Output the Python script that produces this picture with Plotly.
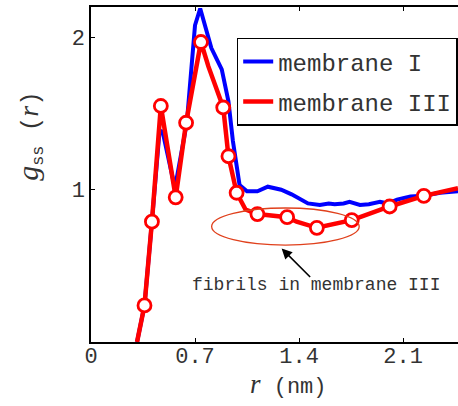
import plotly.graph_objects as go

# membrane I (blue line)
r_I = [0.31, 0.335, 0.36, 0.41, 0.46, 0.48, 0.565, 0.645, 0.70, 0.735, 0.81, 0.88,
       0.925, 0.955, 1.0, 1.05, 1.12, 1.19, 1.24, 1.28, 1.35, 1.41, 1.46, 1.54, 1.60,
       1.64, 1.70, 1.74, 1.81, 1.87, 1.945, 2.0, 2.06, 2.15, 2.24, 2.35, 2.47]
g_I = [0.0, 0.12, 0.24, 0.79, 1.37, 1.39, 1.01, 1.44, 2.08, 2.19, 1.93, 1.79,
       1.58, 1.32, 1.03, 0.99, 0.99, 1.02, 1.01, 1.00, 0.97, 0.94, 0.91, 0.90, 0.91,
       0.905, 0.91, 0.92, 0.90, 0.905, 0.92, 0.91, 0.935, 0.955, 0.96, 0.98, 0.99]

# membrane III (red line)
r_III = [0.31, 0.335, 0.36, 0.41, 0.47, 0.57, 0.64, 0.74, 0.79, 0.89, 0.925, 0.98,
         1.04, 1.12, 1.32, 1.384, 1.52, 1.755, 2.01, 2.24, 2.47]
g_III = [0.0, 0.11, 0.24, 0.79, 1.55, 0.95, 1.44, 1.97, 1.81, 1.54, 1.22, 0.98,
         0.87, 0.84, 0.82, 0.79, 0.75, 0.80, 0.89, 0.96, 1.01]

# membrane III markers
r_III_mk = [0.36, 0.41, 0.47, 0.57, 0.64, 0.74, 0.89, 0.925, 0.98, 1.12, 1.32, 1.52, 1.755, 2.01, 2.24]
g_III_mk = [0.24, 0.79, 1.55, 0.95, 1.44, 1.97, 1.54, 1.22, 0.98, 0.84, 0.82, 0.75, 0.80, 0.89, 0.96]

x_ticks = [0, 0.7, 1.4, 2.1]
x_ticktext = ["0", "0.7", "1.4", "2.1"]
y_ticks = [1, 2]
y_ticktext = ["1", "2"]

MONO = "Liberation Mono"
SERIF = "Liberation Serif"
TXT = "#333333"

fig = go.Figure()
fig.add_trace(go.Scatter(x=r_I, y=g_I, mode="lines", name="membrane I",
                         line=dict(color="#0000ff", width=4), legendgroup="a"))
fig.add_trace(go.Scatter(x=r_III, y=g_III, mode="lines", name="membrane III",
                         line=dict(color="#ff0000", width=4.5), legendgroup="b"))
fig.add_trace(go.Scatter(x=r_III_mk, y=g_III_mk, mode="markers", showlegend=False,
                         marker=dict(size=13, color="white",
                                     line=dict(color="#ff0000", width=2.8))))

fig.add_shape(type="circle", xref="x", yref="y", x0=0.812, x1=1.805, y0=0.636, y1=0.88,
              line=dict(color="#e0401c", width=1.3))

fig.add_annotation(x=1.283, y=0.614, ax=1.485, ay=0.417, xref="x", yref="y",
                   axref="x", ayref="y", showarrow=True, arrowhead=2, arrowsize=1.3,
                   arrowwidth=1.6, arrowcolor="black", text="")
fig.add_annotation(x=1.514, y=0.373, xref="x", yref="y", showarrow=False,
                   text="fibrils in membrane III",
                   font=dict(family=MONO, size=18, color=TXT))

fig.add_annotation(x=0.538, y=-0.126, xref="paper", yref="paper", showarrow=False,
                   xanchor="center", yanchor="middle",
                   text=f"<span style='font-family:{SERIF};font-size:27px'><i>r</i></span> (nm)",
                   font=dict(family=MONO, size=22, color=TXT))
fig.add_annotation(x=-0.166, y=0.613, xref="paper", yref="paper", showarrow=False,
                   xanchor="center", yanchor="middle", textangle=-90,
                   text=(f"<span style='font-family:{SERIF};font-size:30px'><i>g</i></span><sub>ss</sub>"
                         f" (<span style='font-family:{SERIF};font-size:28px'><i>r</i></span>)"),
                   font=dict(family=MONO, size=24, color=TXT))

fig.update_layout(
    width=458, height=406,
    margin=dict(l=91, r=0, t=7, b=64),
    paper_bgcolor="white", plot_bgcolor="white",
    showlegend=True,
    legend=dict(x=0.397, y=0.908, xanchor="left", yanchor="top",
                bgcolor="white", bordercolor="black", borderwidth=1.5,
                font=dict(family=MONO, size=24, color=TXT), tracegroupgap=6),
    xaxis=dict(range=[0, 2.47], tickvals=x_ticks, ticktext=x_ticktext,
               ticks="inside", ticklen=4, tickcolor="black", showline=True,
               linecolor="black", linewidth=1.5, mirror="ticks", showgrid=False,
               zeroline=False, ticklabelstandoff=-7,
               tickfont=dict(family=MONO, size=22, color=TXT)),
    yaxis=dict(range=[0, 2.2], tickvals=y_ticks, ticktext=y_ticktext,
               ticks="inside", ticklen=4, tickcolor="black", showline=True,
               linecolor="black", linewidth=1.5, mirror=False, showgrid=False,
               zeroline=False, tickfont=dict(family=MONO, size=22, color=TXT)),
)

fig.write_html("out.html")
